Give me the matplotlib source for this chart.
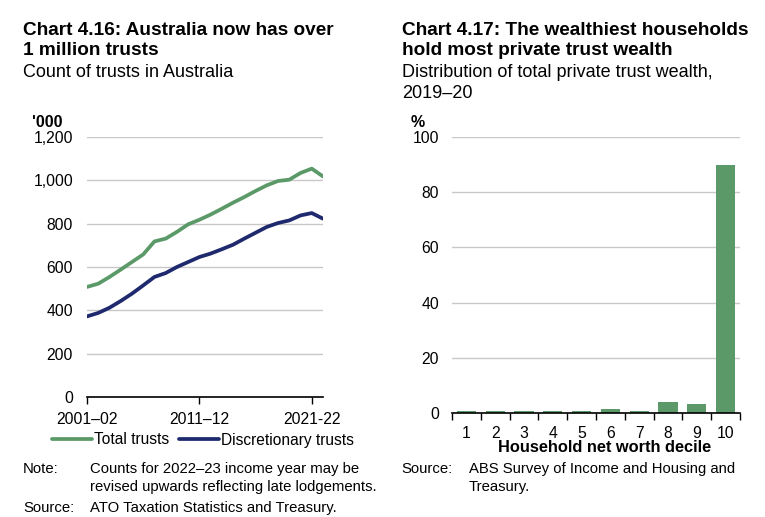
import numpy as np
import matplotlib
matplotlib.use('Agg')
import matplotlib.pyplot as plt

plt.rcParams['font.family'] = ['Liberation Sans', 'DejaVu Sans']

GREEN = '#5B9A68'
NAVY = '#1F2A6E'
GRID = '#C8C8C8'

# Chart 4.16 data ('000 trusts), 2001-02 to 2022-23
years = ['%d–%02d' % (y, (y + 1) % 100) for y in range(2001, 2023)]
total_trusts = [508, 523, 554, 588, 623, 658, 718, 731, 762, 797, 818,
                842, 869, 897, 923, 951, 977, 997, 1003, 1034, 1054, 1018]
disc_trusts = [372, 388, 412, 443, 477, 515, 554, 572, 600, 623, 646,
               662, 682, 703, 731, 758, 785, 803, 815, 838, 849, 823]
year_ticks = [0, 10, 20]
year_ticklabels = ['2001–02', '2011–12', '2021-22']

# Chart 4.17 data (% of private trust wealth)
deciles = ['1', '2', '3', '4', '5', '6', '7', '8', '9', '10']
wealth_share = [0.8, 0.8, 0.8, 0.8, 0.8, 1.3, 0.7, 4.0, 3.4, 89.8]

W, H = 765, 517
fig = plt.figure(figsize=(W / 100, H / 100), dpi=100)

def box(x0, y0, x1, y1):
    return [x0 / W, 1 - y1 / H, (x1 - x0) / W, (y1 - y0) / H]

def txt(x, y, s, **kw):
    fig.text(x / W, 1 - y / H, s, va='baseline', ha=kw.pop('ha', 'left'), **kw)

TICK = 11.3

# ---- left chart ----
ax1 = fig.add_axes(box(87, 137, 323, 397))
x = np.arange(len(years))
ax1.plot(x, total_trusts, color=GREEN, lw=2.7, label='Total trusts', solid_capstyle='round')
ax1.plot(x, disc_trusts, color=NAVY, lw=2.7, label='Discretionary trusts', solid_capstyle='round')
ax1.set_xlim(0, len(years) - 1)
ax1.set_ylim(0, 1200)
ax1.set_yticks(range(0, 1201, 200))
ax1.set_yticklabels(['{:,}'.format(v) for v in range(0, 1201, 200)])
ax1.set_xticks(year_ticks)
ax1.set_xticklabels(year_ticklabels)

# ---- right chart ----
ax2 = fig.add_axes(box(452, 137, 740, 413))
xb = np.arange(len(deciles))
ax2.bar(xb, wealth_share, width=0.66, color=GREEN, zorder=2)
ax2.set_xlim(-0.5, len(deciles) - 0.5)
ax2.set_ylim(0, 100)
ax2.set_yticks(range(0, 101, 20))
ax2.set_xticks(xb)
ax2.set_xticklabels(deciles)
ax2.set_xticks(np.arange(-0.5, len(deciles)), minor=True)
ax2.tick_params(axis='x', which='major', length=0, pad=9)
ax2.tick_params(axis='x', which='minor', length=5, width=1)

for ax in (ax1, ax2):
    for s in ['top', 'right', 'left']:
        ax.spines[s].set_visible(False)
    ax.spines['bottom'].set_linewidth(1.2)
    ax.yaxis.grid(True, color=GRID, lw=1)
    ax.set_axisbelow(True)
    ax.tick_params(axis='y', length=0, labelsize=TICK, pad=10)
    ax.tick_params(axis='x', labelsize=TICK)
ax1.tick_params(axis='x', length=5, width=1, pad=6)
ax2.tick_params(axis='y', pad=9.4)

fig.legend(*ax1.get_legend_handles_labels(), loc='center left',
           bbox_to_anchor=(52 / W, 1 - 440 / H), ncol=2, frameon=False,
           fontsize=11.2, handlelength=2.57, handletextpad=0.13, columnspacing=0.64,
           borderaxespad=0, borderpad=0)

# ---- text ----
txt(23, 35, 'Chart 4.16: Australia now has over', fontsize=13.7, fontweight='bold')
txt(23, 55, '1 million trusts', fontsize=13.7, fontweight='bold')
txt(23, 77, 'Count of trusts in Australia', fontsize=13)
txt(32, 127, "'000", fontsize=11.5, fontweight='bold')

txt(402, 35, 'Chart 4.17: The wealthiest households', fontsize=13.7, fontweight='bold')
txt(402, 55, 'hold most private trust wealth', fontsize=13.7, fontweight='bold')
txt(402, 77, 'Distribution of total private trust wealth,', fontsize=13)
txt(402, 98, '2019–20', fontsize=13)
txt(411, 127, '%', fontsize=11.5, fontweight='bold')

txt(605, 452, 'Household net worth decile', fontsize=11.8, fontweight='bold', ha='center')

txt(23, 473, 'Note:', fontsize=10.7)
txt(90, 473, 'Counts for 2022–23 income year may be', fontsize=10.7)
txt(90, 491, 'revised upwards reflecting late lodgements.', fontsize=10.7)
txt(23, 512, 'Source:', fontsize=10.7)
txt(90, 512, 'ATO Taxation Statistics and Treasury.', fontsize=10.7)

txt(401, 473, 'Source:', fontsize=10.7)
txt(469, 473, 'ABS Survey of Income and Housing and', fontsize=10.7)
txt(469, 491, 'Treasury.', fontsize=10.7)

fig.savefig('out.png', dpi=100)
